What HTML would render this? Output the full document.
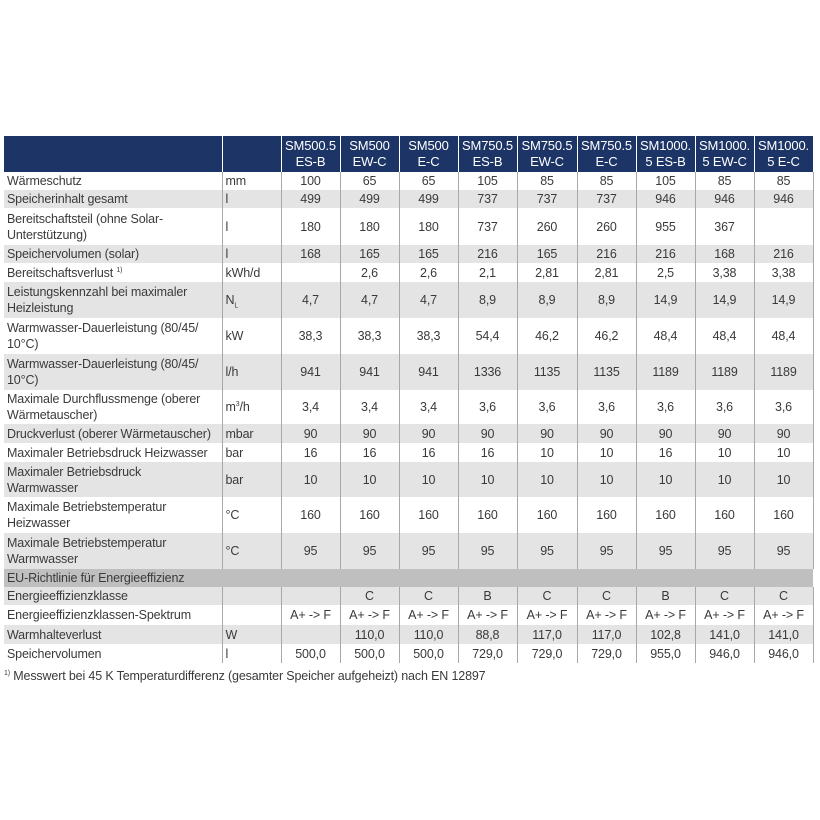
<!DOCTYPE html>
<html><head><meta charset="utf-8"><style>
body{margin:0;background:#fff;width:820px;height:820px;position:relative;font-family:"Liberation Sans",sans-serif;color:#3a3a3a}
table{position:absolute;left:4px;top:136px;border-collapse:collapse;table-layout:fixed;width:809px;font-size:12.5px;letter-spacing:-0.15px}
td{padding:0 0 0 3px;border-left:1px solid #a8a8a8;border-right:1px solid #a8a8a8;line-height:16px;vertical-align:middle;overflow:hidden;white-space:nowrap}
td.n{text-align:center;padding:0}
td.l{border-left:none}
tr.h td{background:#1d3566;color:#fff;text-align:center;border-color:#fff;line-height:16px;padding:0;font-size:13px}
tr.h td:first-child{border-left:none}
tr.g td{background:#e4e4e4}
tr.e td{background:#bfbfbf;border-color:#bfbfbf}
sup{font-size:7px;line-height:0}
sub{font-size:7px;line-height:0}
.f{position:absolute;left:4px;top:669px;font-size:12.5px;letter-spacing:-0.15px;color:#3a3a3a}
</style></head><body>
<table>
<colgroup><col style="width:218px"><col style="width:59px"><col style="width:59px"><col style="width:59px"><col style="width:59px"><col style="width:59px"><col style="width:60px"><col style="width:59px"><col style="width:59px"><col style="width:59px"><col style="width:59px"></colgroup>
<tr class="h" style="height:36px"><td></td><td></td><td>SM500.5<br>ES-B</td><td>SM500<br>EW-C</td><td>SM500<br>E-C</td><td>SM750.5<br>ES-B</td><td>SM750.5<br>EW-C</td><td>SM750.5<br>E-C</td><td>SM1000.<br>5 ES-B</td><td>SM1000.<br>5 EW-C</td><td>SM1000.<br>5 E-C</td></tr>
<tr style="height:18px"><td class="l">Wärmeschutz</td><td>mm</td><td class="n">100</td><td class="n">65</td><td class="n">65</td><td class="n">105</td><td class="n">85</td><td class="n">85</td><td class="n">105</td><td class="n">85</td><td class="n">85</td></tr>
<tr class="g" style="height:18px"><td class="l">Speicherinhalt gesamt</td><td>l</td><td class="n">499</td><td class="n">499</td><td class="n">499</td><td class="n">737</td><td class="n">737</td><td class="n">737</td><td class="n">946</td><td class="n">946</td><td class="n">946</td></tr>
<tr style="height:37px"><td class="l">Bereitschaftsteil (ohne Solar-<br>Unterstützung)</td><td>l</td><td class="n">180</td><td class="n">180</td><td class="n">180</td><td class="n">737</td><td class="n">260</td><td class="n">260</td><td class="n">955</td><td class="n">367</td><td class="n"></td></tr>
<tr class="g" style="height:18px"><td class="l">Speichervolumen (solar)</td><td>l</td><td class="n">168</td><td class="n">165</td><td class="n">165</td><td class="n">216</td><td class="n">165</td><td class="n">216</td><td class="n">216</td><td class="n">168</td><td class="n">216</td></tr>
<tr style="height:19px"><td class="l">Bereitschaftsverlust <sup>1)</sup></td><td>kWh/d</td><td class="n"></td><td class="n">2,6</td><td class="n">2,6</td><td class="n">2,1</td><td class="n">2,81</td><td class="n">2,81</td><td class="n">2,5</td><td class="n">3,38</td><td class="n">3,38</td></tr>
<tr class="g" style="height:36px"><td class="l">Leistungskennzahl bei maximaler<br>Heizleistung</td><td>N<sub>L</sub></td><td class="n">4,7</td><td class="n">4,7</td><td class="n">4,7</td><td class="n">8,9</td><td class="n">8,9</td><td class="n">8,9</td><td class="n">14,9</td><td class="n">14,9</td><td class="n">14,9</td></tr>
<tr style="height:36px"><td class="l">Warmwasser-Dauerleistung (80/45/<br>10°C)</td><td>kW</td><td class="n">38,3</td><td class="n">38,3</td><td class="n">38,3</td><td class="n">54,4</td><td class="n">46,2</td><td class="n">46,2</td><td class="n">48,4</td><td class="n">48,4</td><td class="n">48,4</td></tr>
<tr class="g" style="height:36px"><td class="l">Warmwasser-Dauerleistung (80/45/<br>10°C)</td><td>l/h</td><td class="n">941</td><td class="n">941</td><td class="n">941</td><td class="n">1336</td><td class="n">1135</td><td class="n">1135</td><td class="n">1189</td><td class="n">1189</td><td class="n">1189</td></tr>
<tr style="height:34px"><td class="l">Maximale Durchflussmenge (oberer<br>Wärmetauscher)</td><td>m<sup>3</sup>/h</td><td class="n">3,4</td><td class="n">3,4</td><td class="n">3,4</td><td class="n">3,6</td><td class="n">3,6</td><td class="n">3,6</td><td class="n">3,6</td><td class="n">3,6</td><td class="n">3,6</td></tr>
<tr class="g" style="height:19px"><td class="l">Druckverlust (oberer Wärmetauscher)</td><td>mbar</td><td class="n">90</td><td class="n">90</td><td class="n">90</td><td class="n">90</td><td class="n">90</td><td class="n">90</td><td class="n">90</td><td class="n">90</td><td class="n">90</td></tr>
<tr style="height:19px"><td class="l">Maximaler Betriebsdruck Heizwasser</td><td>bar</td><td class="n">16</td><td class="n">16</td><td class="n">16</td><td class="n">16</td><td class="n">10</td><td class="n">10</td><td class="n">16</td><td class="n">10</td><td class="n">10</td></tr>
<tr class="g" style="height:35px"><td class="l">Maximaler Betriebsdruck<br>Warmwasser</td><td>bar</td><td class="n">10</td><td class="n">10</td><td class="n">10</td><td class="n">10</td><td class="n">10</td><td class="n">10</td><td class="n">10</td><td class="n">10</td><td class="n">10</td></tr>
<tr style="height:36px"><td class="l">Maximale Betriebstemperatur<br>Heizwasser</td><td>°C</td><td class="n">160</td><td class="n">160</td><td class="n">160</td><td class="n">160</td><td class="n">160</td><td class="n">160</td><td class="n">160</td><td class="n">160</td><td class="n">160</td></tr>
<tr class="g" style="height:36px"><td class="l">Maximale Betriebstemperatur<br>Warmwasser</td><td>°C</td><td class="n">95</td><td class="n">95</td><td class="n">95</td><td class="n">95</td><td class="n">95</td><td class="n">95</td><td class="n">95</td><td class="n">95</td><td class="n">95</td></tr>
<tr class="e" style="height:18px"><td colspan="11" style="border:none">EU-Richtlinie für Energieeffizienz</td></tr>
<tr class="g" style="height:18px"><td class="l">Energieeffizienzklasse</td><td></td><td class="n"></td><td class="n">C</td><td class="n">C</td><td class="n">B</td><td class="n">C</td><td class="n">C</td><td class="n">B</td><td class="n">C</td><td class="n">C</td></tr>
<tr style="height:20px"><td class="l">Energieeffizienzklassen-Spektrum</td><td></td><td class="n">A+ -&gt; F</td><td class="n">A+ -&gt; F</td><td class="n">A+ -&gt; F</td><td class="n">A+ -&gt; F</td><td class="n">A+ -&gt; F</td><td class="n">A+ -&gt; F</td><td class="n">A+ -&gt; F</td><td class="n">A+ -&gt; F</td><td class="n">A+ -&gt; F</td></tr>
<tr class="g" style="height:19px"><td class="l">Warmhalteverlust</td><td>W</td><td class="n"></td><td class="n">110,0</td><td class="n">110,0</td><td class="n">88,8</td><td class="n">117,0</td><td class="n">117,0</td><td class="n">102,8</td><td class="n">141,0</td><td class="n">141,0</td></tr>
<tr style="height:19px"><td class="l">Speichervolumen</td><td>l</td><td class="n">500,0</td><td class="n">500,0</td><td class="n">500,0</td><td class="n">729,0</td><td class="n">729,0</td><td class="n">729,0</td><td class="n">955,0</td><td class="n">946,0</td><td class="n">946,0</td></tr>
</table>
<div class="f"><sup>1)</sup> Messwert bei 45 K Temperaturdifferenz (gesamter Speicher aufgeheizt) nach EN 12897</div>
</body></html>
